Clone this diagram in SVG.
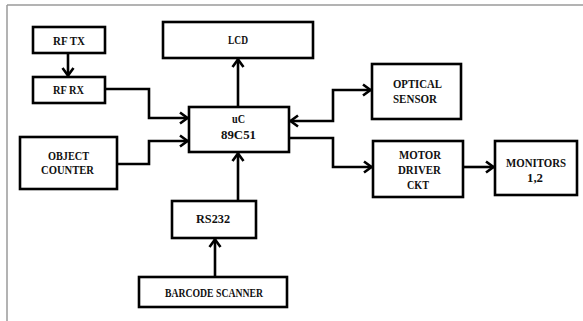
<svg xmlns="http://www.w3.org/2000/svg" width="583" height="321" viewBox="0 0 583 321">
<style>
.box{fill:#fff;stroke:#000;stroke-width:2.6}
.lbl{font-family:"Liberation Serif","Times New Roman",serif;font-weight:bold;font-size:13px;fill:#111;text-anchor:middle}
.con{fill:none;stroke:#000;stroke-width:2.6}
</style>
<defs>
<marker id="arr" viewBox="0 0 12 14" markerWidth="12" markerHeight="14" refX="10" refY="7" orient="auto-start-reverse" markerUnits="userSpaceOnUse">
<path d="M2,1.5 L9.5,7 L2,12.5" fill="none" stroke="#000" stroke-width="2.6"/>
</marker>
</defs>
<rect width="583" height="321" fill="#fff"/>
<g id="frame" stroke="#9a9a9a" stroke-width="1.5" fill="none">
<path d="M7,5 H583 M7,5 V321"/>
</g>
<g id="connectors">
<path class="con" d="M68,53 V76" marker-end="url(#arr)"/>
<path class="con" d="M105,89 H149 V118 H188" marker-end="url(#arr)"/>
<path class="con" d="M117,164 H149 V141 H188" marker-end="url(#arr)"/>
<path class="con" d="M238,107 V59" marker-end="url(#arr)"/>
<path class="con" d="M238,201 V153" marker-end="url(#arr)"/>
<path class="con" d="M215,277 V239" marker-end="url(#arr)"/>
<path class="con" d="M290,121 H333 V90 H371" marker-start="url(#arr)" marker-end="url(#arr)"/>
<path class="con" d="M289,138 H333 V167 H372" marker-end="url(#arr)"/>
<path class="con" d="M463,167 H494" marker-end="url(#arr)"/>
</g>
<g id="rftx"><rect class="box" x="33" y="27" width="72" height="26"/><text class="lbl" x="69" y="45" textLength="32" lengthAdjust="spacingAndGlyphs">RF TX</text></g>
<g id="rfrx"><rect class="box" x="33" y="77" width="72" height="26"/><text class="lbl" x="68.5" y="94" textLength="31" lengthAdjust="spacingAndGlyphs">RF RX</text></g>
<g id="lcd"><rect class="box" x="163" y="22" width="150" height="36"/><text class="lbl" x="238" y="44" textLength="20" lengthAdjust="spacingAndGlyphs">LCD</text></g>
<g id="uc"><rect class="box" x="189" y="107" width="100" height="45"/><text class="lbl" x="238.5" y="123" textLength="13" lengthAdjust="spacingAndGlyphs">uC</text><text class="lbl" x="238.5" y="139" textLength="35" lengthAdjust="spacingAndGlyphs">89C51</text></g>
<g id="objectcounter"><rect class="box" x="20" y="137" width="97" height="52"/><text class="lbl" x="68.5" y="160" textLength="41" lengthAdjust="spacingAndGlyphs">OBJECT</text><text class="lbl" x="67.5" y="174" textLength="53" lengthAdjust="spacingAndGlyphs">COUNTER</text></g>
<g id="optical"><rect class="box" x="372" y="64" width="89" height="55"/><text class="lbl" x="417.5" y="88" textLength="49" lengthAdjust="spacingAndGlyphs">OPTICAL</text><text class="lbl" x="415" y="103" textLength="44" lengthAdjust="spacingAndGlyphs">SENSOR</text></g>
<g id="motordriver"><rect class="box" x="373" y="141" width="90" height="56"/><text class="lbl" x="420" y="159" textLength="42" lengthAdjust="spacingAndGlyphs">MOTOR</text><text class="lbl" x="419.5" y="174" textLength="43" lengthAdjust="spacingAndGlyphs">DRIVER</text><text class="lbl" x="418" y="189" textLength="22" lengthAdjust="spacingAndGlyphs">CKT</text></g>
<g id="monitors"><rect class="box" x="495" y="141" width="82" height="54"/><text class="lbl" x="536" y="167" textLength="60" lengthAdjust="spacingAndGlyphs">MONITORS</text><text class="lbl" x="535" y="182" textLength="16" lengthAdjust="spacingAndGlyphs">1,2</text></g>
<g id="rs232"><rect class="box" x="172" y="201" width="84" height="37"/><text class="lbl" x="213" y="223" textLength="34" lengthAdjust="spacingAndGlyphs">RS232</text></g>
<g id="barcode"><rect class="box" x="139" y="277" width="148" height="30"/><text class="lbl" x="214" y="297" textLength="98" lengthAdjust="spacingAndGlyphs">BARCODE SCANNER</text></g>
</svg>
